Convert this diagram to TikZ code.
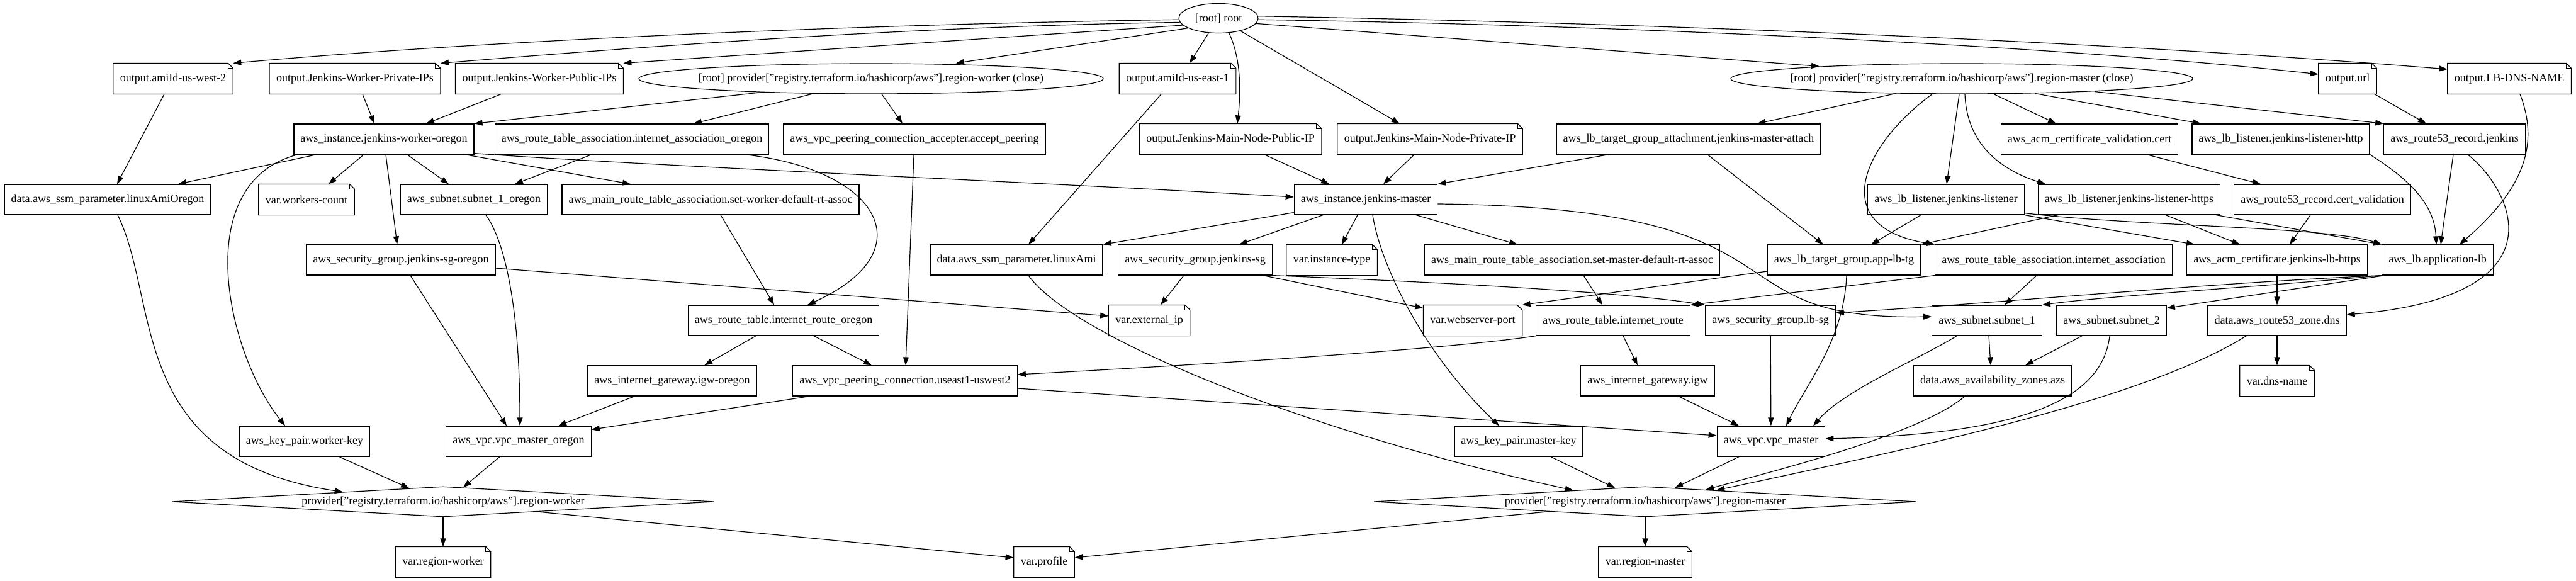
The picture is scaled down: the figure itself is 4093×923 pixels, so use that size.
\documentclass[tikz,border=0pt]{standalone}
\usepackage{fontspec}
\setmainfont{Liberation Serif}
\usepackage{tikz}
\usetikzlibrary{shapes.geometric, arrows.meta, calc}
\newcommand{\notefold}[1]{%
  \draw (#1.north west) -- ([xshift=-8pt]#1.north east) -- ([yshift=-8pt]#1.north east) -- (#1.south east) -- (#1.south west) -- cycle;
  \draw ([xshift=-8pt]#1.north east) -- ([xshift=-8pt,yshift=-8pt]#1.north east) -- ([yshift=-8pt]#1.north east);}

\begin{document}
\begin{tikzpicture}[x=1pt, y=-1pt, line width=1.2pt, every node/.style={font=\fontsize{18}{20}\selectfont}]
\tikzstyle{resbox}=[rectangle, draw, minimum height=48pt, inner xsep=10.5pt, inner ysep=0pt]
\tikzstyle{notebox}=[rectangle, minimum height=48pt, inner xsep=10.5pt, inner ysep=0pt]
\tikzstyle{closeell}=[ellipse, draw, minimum height=48pt, inner xsep=-20pt, inner ysep=0pt]
\tikzstyle{provbox}=[diamond, draw, shape aspect=16, inner sep=0pt, minimum width=862pt, minimum height=48pt]
\tikzstyle{dep}=[-{Triangle[length=13pt,width=9pt]}]
\useasboundingbox (0,0) rectangle (4093,923);

\node[closeell, minimum width=126pt, minimum height=47pt] (root) at (1936,29) {[root] root};

\node[notebox] (owest) at (275,125) {output.amiId-us-west-2};
\node[notebox] (owpriv) at (564,125) {output.Jenkins-Worker-Private-IPs};
\node[notebox] (owpub) at (857,125) {output.Jenkins-Worker-Public-IPs};
\node[closeell, minimum width=738pt] (pwclose) at (1384,125) {[root] provider["registry.terraform.io/hashicorp/aws"].region-worker (close)};
\node[notebox] (oeast) at (1871,125) {output.amiId-us-east-1};
\node[closeell, minimum width=734pt] (pmclose) at (3117,125) {[root] provider["registry.terraform.io/hashicorp/aws"].region-master (close)};
\node[notebox] (ourl) at (3730,125) {output.url};
\node[notebox] (olbdns) at (3987,125) {output.LB-DNS-NAME};

\node[resbox] (worker) at (610,221) {aws\_instance.jenkins-worker-oregon};
\node[resbox] (rtaoregon) at (1004,221) {aws\_route\_table\_association.internet\_association\_oregon};
\node[resbox] (accept) at (1453,221) {aws\_vpc\_peering\_connection\_accepter.accept\_peering};
\node[notebox] (omainpub) at (1955,221) {output.Jenkins-Main-Node-Public-IP};
\node[notebox] (omainpriv) at (2272,221) {output.Jenkins-Main-Node-Private-IP};
\node[resbox] (tgattach) at (2683,221) {aws\_lb\_target\_group\_attachment.jenkins-master-attach};
\node[resbox] (certval) at (3320,221) {aws\_acm\_certificate\_validation.cert};
\node[resbox] (lishttp) at (3624,221) {aws\_lb\_listener.jenkins-listener-http};
\node[resbox] (r53jenkins) at (3900,221) {aws\_route53\_record.jenkins};

\node[resbox] (amioregon) at (171,317) {data.aws\_ssm\_parameter.linuxAmiOregon};
\node[notebox] (workerscount) at (487,317) {var.workers-count};
\node[resbox] (subnet1or) at (753,317) {aws\_subnet.subnet\_1\_oregon};
\node[resbox] (mainrtworker) at (1129,317) {aws\_main\_route\_table\_association.set-worker-default-rt-assoc};
\node[resbox] (master) at (2170,317) {aws\_instance.jenkins-master};
\node[resbox] (listener) at (3092,317) {aws\_lb\_listener.jenkins-listener};
\node[resbox] (lishttps) at (3383,317) {aws\_lb\_listener.jenkins-listener-https};
\node[resbox] (r53cert) at (3690,317) {aws\_route53\_record.cert\_validation};

\node[resbox] (sgoregon) at (637,413) {aws\_security\_group.jenkins-sg-oregon};
\node[resbox] (ami) at (1615,413) {data.aws\_ssm\_parameter.linuxAmi};
\node[resbox] (sgjenkins) at (1899,413) {aws\_security\_group.jenkins-sg};
\node[notebox] (insttype) at (2116,413) {var.instance-type};
\node[resbox] (mainrtmaster) at (2498,413) {aws\_main\_route\_table\_association.set-master-default-rt-assoc};
\node[resbox] (tg) at (2930,413) {aws\_lb\_target\_group.app-lb-tg};
\node[resbox] (rtassoc) at (3263,413) {aws\_route\_table\_association.internet\_association};
\node[resbox] (acm) at (3618,413) {aws\_acm\_certificate.jenkins-lb-https};
\node[resbox] (alb) at (3873,413) {aws\_lb.application-lb};

\node[resbox] (rtoregon) at (1245,509) {aws\_route\_table.internet\_route\_oregon};
\node[notebox] (extip) at (1826,509) {var.external\_ip};
\node[notebox] (wsport) at (2340,509) {var.webserver-port};
\node[resbox] (rtmaster) at (2563,509) {aws\_route\_table.internet\_route};
\node[resbox] (lbsg) at (2813,509) {aws\_security\_group.lb-sg};
\node[resbox] (subnet1) at (3157,509) {aws\_subnet.subnet\_1};
\node[resbox] (subnet2) at (3355,509) {aws\_subnet.subnet\_2};
\node[resbox] (zone) at (3618,509) {data.aws\_route53\_zone.dns};

\node[resbox] (igworegon) at (1068,605) {aws\_internet\_gateway.igw-oregon};
\node[resbox] (peering) at (1438,605) {aws\_vpc\_peering\_connection.useast1-uswest2};
\node[resbox] (igw) at (2618,605) {aws\_internet\_gateway.igw};
\node[resbox] (azs) at (3166,605) {data.aws\_availability\_zones.azs};
\node[notebox] (dnsname) at (3618,605) {var.dns-name};

\node[resbox] (workerkey) at (484,701) {aws\_key\_pair.worker-key};
\node[resbox] (vpcoregon) at (824,701) {aws\_vpc.vpc\_master\_oregon};
\node[resbox] (masterkey) at (2413,701) {aws\_key\_pair.master-key};
\node[resbox] (vpcmaster) at (2814,701) {aws\_vpc.vpc\_master};

\node[provbox] (pworker) at (704,797) {provider["registry.terraform.io/hashicorp/aws"].region-worker};
\node[provbox] (pmaster) at (2614,797) {provider["registry.terraform.io/hashicorp/aws"].region-master};

\node[notebox] (regionworker) at (704,893) {var.region-worker};
\node[notebox] (profile) at (1659,893) {var.profile};
\node[notebox] (regionmaster) at (2614,893) {var.region-master};

\foreach \n in {owest,owpriv,owpub,oeast,ourl,olbdns,omainpub,omainpriv,workerscount,insttype,extip,wsport,dnsname,regionworker,profile,regionmaster}
  {\notefold{\n}}

\draw[dep] (root.182) .. controls (1400,38) and (800,62) .. (owest.north east);
\draw[dep] (root.186) .. controls (1450,42) and (1050,72) .. (owpriv.north east);
\draw[dep] (root.191) -- (owpub.north east);
\draw[dep] (root.198) -- ([xshift=135pt]pwclose.north);
\draw[dep] ([xshift=-16pt]root.south) -- ([xshift=19pt]oeast.north);
\draw[dep] ([xshift=17pt]root.south) .. controls (1975,100) and (1970,160) .. ([xshift=11pt]omainpub.north);
\draw[dep] ([xshift=35pt,yshift=4pt]root.south) -- ([xshift=-48pt]omainpriv.north);
\draw[dep] (root.-8) -- ([xshift=-226pt,yshift=-5pt]pmclose.north);
\draw[dep] (root.-2) .. controls (2600,40) and (3300,75) .. ([yshift=7pt]ourl.west);
\draw[dep] (root.3) .. controls (2700,38) and (3400,70) .. ([yshift=15pt]olbdns.west);

\draw[dep] ([xshift=-173pt,yshift=3pt]pwclose.south) -- (worker.north east);
\draw[dep] ([xshift=-91pt,yshift=1pt]pwclose.south) -- ([xshift=98pt]rtaoregon.north);
\draw[dep] ([xshift=17pt]pwclose.south) -- ([xshift=-19pt]accept.north);

\draw[dep] ([xshift=-14pt]owest.south) -- ([xshift=15pt]amioregon.north);
\draw[dep] ([xshift=12pt]owpriv.south) -- ([xshift=-15pt]worker.north);
\draw[dep] ([xshift=-61pt]owpub.south) -- ([xshift=67pt]worker.north);
\draw[dep] ([xshift=-26pt]oeast.south) -- ([xshift=19pt]ami.north);
\draw[dep] ([xshift=54pt]omainpub.south) -- ([xshift=-58pt]master.north);
\draw[dep] ([xshift=-25pt]omainpriv.south) -- ([xshift=28pt]master.north);
\draw[dep] ([xshift=43pt]ourl.south) -- ([xshift=-45pt]r53jenkins.north);
\draw[dep] ([xshift=17pt]olbdns.south) .. controls (4035,230) and (4010,300) .. ([xshift=35pt]alb.north);

\draw[dep] ([xshift=-107pt]worker.south) -- ([xshift=112pt]amioregon.north);
\draw[dep] ([xshift=-137pt]worker.south) .. controls (300,290) and (360,560) .. ([xshift=-31pt]workerkey.north);
\draw[dep] ([xshift=-32pt]worker.south) -- ([xshift=35pt]workerscount.north);
\draw[dep] ([xshift=3pt]worker.south) -- ([xshift=-6pt]sgoregon.north);
\draw[dep] ([xshift=37pt]worker.south) -- ([xshift=-40pt]subnet1or.north);
\draw[dep] ([xshift=129pt]worker.south) -- ([xshift=-127pt]mainrtworker.north);
\draw[dep] ([yshift=2pt]worker.south east) .. controls (1000,262) and (1700,292) .. ([yshift=4pt]master.west);

\draw[dep] ([xshift=-64pt]rtaoregon.south) -- ([xshift=65pt]subnet1or.north);
\draw[dep] ([xshift=180pt]rtaoregon.south) .. controls (1400,270) and (1470,400) .. ([xshift=38pt]rtoregon.north);
\draw[dep] (accept) -- (peering);
\draw[dep] ([xshift=16pt]mainrtworker.south) -- ([xshift=-15pt]rtoregon.north);
\draw[dep] ([xshift=-44pt]rtoregon.south) -- ([xshift=51pt]igworegon.north);
\draw[dep] ([xshift=48pt]rtoregon.south) -- ([xshift=-53pt]peering.north);

\draw[dep] ([yshift=-13pt]sgoregon.east) -- ([yshift=7pt]extip.west);
\draw[dep] ([xshift=15pt]sgoregon.south) -- ([xshift=-19pt]vpcoregon.north);
\draw[dep] ([xshift=19pt]subnet1or.south) .. controls (800,380) and (826,480) .. ([xshift=2pt]vpcoregon.north);
\draw[dep] ([xshift=16pt]amioregon.south) .. controls (255,480) and (200,730) .. ($(pworker.north)!0.369!(pworker.west)$);
\draw[dep] ([xshift=55pt]workerkey.south) -- ($(pworker.north)!0.125!(pworker.west)$);
\draw[dep] ([xshift=-30pt]vpcoregon.south) -- ($(pworker.north)!0.074!(pworker.east)$);
\draw[dep] ([xshift=-60pt]igworegon.south) -- ([xshift=63pt]vpcoregon.north);
\draw[dep] ([xshift=-152pt]peering.south) -- ([yshift=-6pt]vpcoregon.north east);
\draw[dep] ([yshift=-12pt]peering.east) -- ([yshift=9pt]vpcmaster.west);

\draw[dep] (pworker) -- (regionworker);
\draw[dep] ($(pworker.south)!0.348!(pworker.east)$) -- ([yshift=7pt]profile.west);
\draw[dep] (pmaster) -- (regionmaster);
\draw[dep] ($(pmaster.south)!0.357!(pmaster.west)$) -- ([yshift=7pt]profile.east);

\draw[dep] ([yshift=4pt]master.south west) -- (ami.north east);
\draw[dep] ([xshift=-68pt]master.south) -- ([xshift=70pt]sgjenkins.north);
\draw[dep] ([xshift=-13pt]master.south) -- ([xshift=16pt]insttype.north);
\draw[dep] ([xshift=11pt]master.south) .. controls (2195,430) and (2270,570) .. ([xshift=-31pt]masterkey.north);
\draw[dep] ([xshift=80pt]master.south) -- ([xshift=-87pt]mainrtmaster.north);
\draw[dep] ([yshift=-7pt]master.east) .. controls (2900,330) and (2700,510) .. ([yshift=6pt]subnet1.west);

\draw[dep] ([xshift=-18pt]sgjenkins.south) -- ([xshift=18pt]extip.north);
\draw[dep] ([xshift=-15pt]sgjenkins.south east) -- ([yshift=-5pt]wsport.north west);
\draw[dep] (sgjenkins.south east) .. controls (2200,445) and (2550,460) .. (lbsg.north west);
\draw[dep] ([xshift=18pt]mainrtmaster.south) -- ([xshift=-17pt]rtmaster.north);

\draw[dep] ([xshift=-127pt]tgattach.south) -- (master.north east);
\draw[dep] ([xshift=30pt]tgattach.south) -- ([xshift=-33pt]tg.north);

\draw[dep] ([xshift=-105pt,yshift=1pt]pmclose.south) -- ([xshift=109pt]tgattach.north);
\draw[dep] ([xshift=-47pt]pmclose.south) .. controls (2960,230) and (2900,360) .. (rtassoc.north west);
\draw[dep] ([xshift=-4pt]pmclose.south) -- ([xshift=1pt]listener.north);
\draw[dep] ([xshift=5pt]pmclose.south) .. controls (3125,230) and (3180,270) .. ([xshift=-133pt]lishttps.north);
\draw[dep] ([xshift=51pt]pmclose.south) -- ([xshift=-53pt]certval.north);
\draw[dep] ([xshift=117pt,yshift=1pt]pmclose.south) -- ([xshift=-127pt]lishttp.north);
\draw[dep] ([xshift=212pt,yshift=4pt]pmclose.south) -- (r53jenkins.north west);

\draw[dep] ([xshift=91pt]certval.south) -- ([xshift=-98pt]r53cert.north);
\draw[dep] (lishttp.south east) .. controls (3820,280) and (3868,320) .. ([xshift=-2pt]alb.north);
\draw[dep] ([xshift=-2pt]r53jenkins.south) -- ([xshift=5pt]alb.north);
\draw[dep] ([xshift=21pt]r53jenkins.south) .. controls (3990,300) and (4080,470) .. ([yshift=9pt]zone.east);

\draw[dep] ([xshift=-40pt]listener.south) -- ([xshift=43pt]tg.north);
\draw[dep] (listener.south east) -- ([xshift=-131pt]acm.north);
\draw[dep] ([yshift=3pt]listener.south east) .. controls (3400,360) and (3700,360) .. (alb.north west);
\draw[dep] ([xshift=-113pt]lishttps.south) -- (tg.north east);
\draw[dep] ([xshift=58pt]lishttps.south) -- ([xshift=-59pt]acm.north);
\draw[dep] ([xshift=-7pt]lishttps.south east) -- (alb.north west);
\draw[dep] ([xshift=-19pt]r53cert.south) -- ([xshift=20pt]acm.north);

\draw[dep] ([yshift=-18pt]tg.west) -- (wsport.north east);
\draw[dep] ([xshift=4pt]tg.south) .. controls (2930,540) and (2870,610) .. ([xshift=24pt]vpcmaster.north);
\draw[dep] (rtassoc.south west) -- (rtmaster.north east);
\draw[dep] ([xshift=-27pt]rtassoc.south) -- ([xshift=28pt]subnet1.north);
\draw[dep] (acm) -- (zone);
\draw[dep] (alb.south west) .. controls (3500,450) and (3200,480) .. ([yshift=12pt]lbsg.east);
\draw[dep] (alb.south west) .. controls (3600,455) and (3350,470) .. (subnet1.north east);
\draw[dep] ([xshift=5pt]alb.south west) -- ([yshift=-5pt]subnet2.north east);

\draw[dep] (lbsg) -- (vpcmaster);
\draw[dep] (rtmaster.south west) .. controls (2300,555) and (1900,580) .. ([yshift=10pt]peering.east);
\draw[dep] ([xshift=16pt]rtmaster.south) -- ([xshift=-16pt]igw.north);
\draw[dep] ([xshift=49pt]igw.south) -- ([xshift=-51pt]vpcmaster.north);
\draw[dep] ([xshift=3pt]subnet1.south) -- ([xshift=-3pt]azs.north);
\draw[dep] ([xshift=-48pt]subnet1.south) .. controls (3050,570) and (2930,620) .. ([xshift=67pt]vpcmaster.north);
\draw[dep] ([xshift=-47pt]subnet2.south) -- ([xshift=52pt]azs.north);
\draw[dep] ([xshift=-3pt]subnet2.south) .. controls (3340,640) and (3200,690) .. ([yshift=4pt]vpcmaster.east);
\draw[dep] (zone) -- (dnsname);
\draw[dep] ([xshift=-49pt]zone.south) .. controls (3400,640) and (3000,720) .. ($(pmaster.north)!0.262!(pmaster.east)$);
\draw[dep] ([xshift=-44pt]azs.south) .. controls (3050,690) and (2830,745) .. ($(pmaster.north)!0.223!(pmaster.east)$);
\draw[dep] ([xshift=19pt]ami.south) .. controls (1700,530) and (2050,680) .. ($(pmaster.north)!0.265!(pmaster.west)$);
\draw[dep] ([xshift=51pt]masterkey.south) -- ($(pmaster.north)!0.111!(pmaster.west)$);
\draw[dep] ([xshift=-51pt]vpcmaster.south) -- ($(pmaster.north)!0.109!(pmaster.east)$);
\end{tikzpicture}
\end{document}
